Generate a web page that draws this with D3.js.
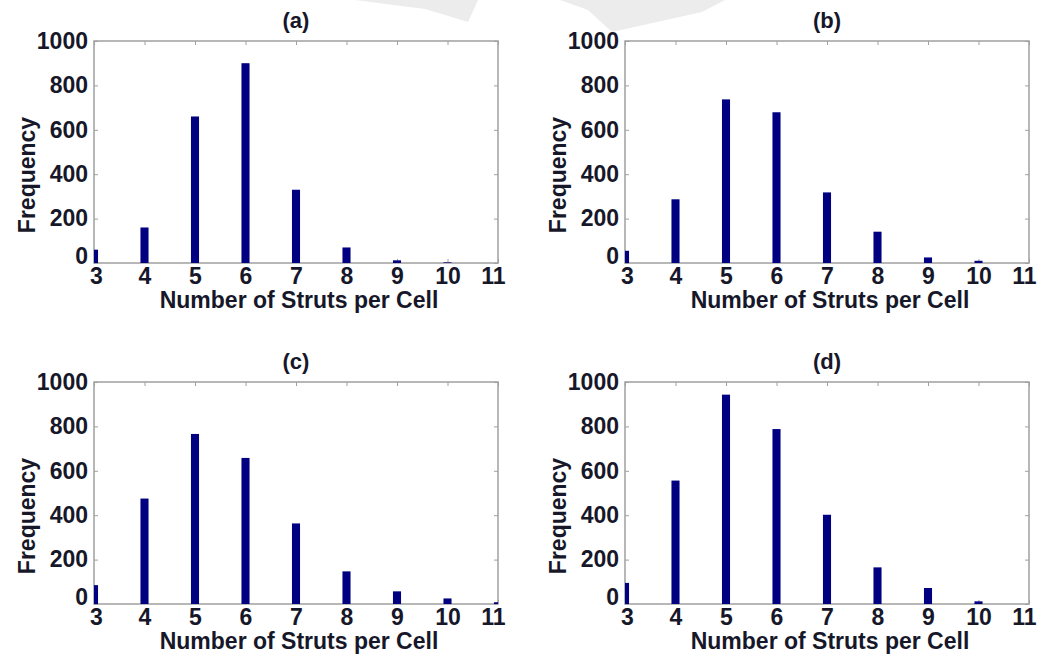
<!DOCTYPE html>
<html>
<head>
<meta charset="utf-8">
<title>Struts per Cell</title>
<style>
body {
	margin: 0;
	background-color: #ffffff;
}
text {
	font-family: "Liberation Sans", Arial, sans-serif;
	font-weight: bold;
	fill: #17172a;
}
</style>
</head>
<body>
<script src="https://cdn.jsdelivr.net/npm/d3@7"></script>
<script>

// data
var struts = [3, 4, 5, 6, 7, 8, 9, 10, 11];
var freqA = [60, 160, 660, 900, 330, 70, 12, 3, 0];
var freqB = [55, 287, 737, 679, 318, 141, 25, 10, 0];
var freqC = [85, 475, 766, 658, 363, 147, 57, 25, 8];
var freqD = [95, 556, 943, 788, 402, 165, 72, 12, 0];
var panelTitles = ["(a)", "(b)", "(c)", "(d)"];
var yTicks = [0, 200, 400, 600, 800, 1000];
var xTicks = [3, 4, 5, 6, 7, 8, 9, 10, 11];
var xLabel = "Number of Struts per Cell";
var yLabel = "Frequency";

var w = 1040;
var h = 655;
var plotW = 404;
var plotH = 222;
var barWidth = 0.16;
var fontSize = 23;

var panels = [
  {left: 94, top: 41, values: freqA, title: panelTitles[0]},
  {left: 625, top: 41, values: freqB, title: panelTitles[1]},
  {left: 94, top: 382, values: freqC, title: panelTitles[2]},
  {left: 625, top: 382, values: freqD, title: panelTitles[3]}
];

var svg = d3.select("body")
            .append("svg")
            .attr("width", w)
            .attr("height", h);

// faint watermark at the top of the scan
svg.append("path")
   .attr("d", "M355,0 L478,0 L468,22 L425,9 Z M560,0 L725,0 L702,12 L612,32 L588,10 Z")
   .attr("fill", "#ececec");

var x = d3.scaleLinear().domain([3, 11]).range([0, plotW]);
var y = d3.scaleLinear().domain([0, 1000]).range([plotH, 0]);

panels.forEach(function(p, k) {
  var g = svg.append("g")
             .attr("transform", "translate(" + p.left + "," + p.top + ")");

  g.append("clipPath")
   .attr("id", "clip" + k)
   .append("rect")
   .attr("width", plotW)
   .attr("height", plotH);

  // box
  g.append("rect")
   .attr("width", plotW)
   .attr("height", plotH)
   .attr("fill", "none")
   .attr("stroke", "#a0a0a0")
   .attr("stroke-width", 1.5);

  // axes, ticks pointing inward
  var bottom = g.append("g")
   .attr("transform", "translate(0," + plotH + ")")
   .call(d3.axisBottom(x).tickValues(xTicks).tickSize(-4).tickPadding(5).tickFormat(d3.format("d")));
  var left = g.append("g")
   .call(d3.axisLeft(y).tickValues(yTicks).tickSize(-4).tickPadding(6).tickFormat(d3.format("d")));
  g.append("g")
   .call(d3.axisTop(x).tickValues(xTicks).tickSize(-4).tickFormat(""));
  g.append("g")
   .attr("transform", "translate(" + plotW + ",0)")
   .call(d3.axisRight(y).tickValues(yTicks).tickSize(-4).tickFormat(""));

  g.selectAll(".domain").remove();
  g.selectAll(".tick line").attr("stroke", "#a0a0a0");
  g.selectAll(".tick text")
   .attr("font-size", fontSize)
   .attr("font-family", null)
   .attr("fill", null);
  // the zero label sits a little higher, as in the picture
  left.selectAll(".tick text")
   .filter(function(d) { return d === 0; })
   .attr("dy", "0.02em");
  // end labels are pulled inward a bit in the picture
  bottom.selectAll(".tick text")
   .attr("dx", function(d) { return d === 3 ? 2 : (d === 11 ? -5 : 0); });

  // bars on top of the inner ticks
  g.append("g")
   .attr("clip-path", "url(#clip" + k + ")")
   .selectAll("rect")
   .data(p.values)
   .enter()
   .append("rect")
   .attr("x", function(d, i) { return x(struts[i] - barWidth / 2); })
   .attr("y", function(d) { return y(d); })
   .attr("width", x(3 + barWidth) - x(3))
   .attr("height", function(d) { return plotH - y(d); })
   .attr("fill", "#000080");

  g.append("text")
   .attr("x", plotW / 2)
   .attr("y", -13)
   .attr("text-anchor", "middle")
   .attr("font-size", fontSize - 1)
   .text(p.title);

  g.append("text")
   .attr("x", plotW / 2 + 3)
   .attr("y", plotH + 45)
   .attr("text-anchor", "middle")
   .attr("font-size", fontSize)
   .text(xLabel);

  g.append("text")
   .attr("transform", "translate(-59," + (plotH / 2 + 23) + ") rotate(-90)")
   .attr("text-anchor", "middle")
   .attr("font-size", fontSize)
   .text(yLabel);
});

</script>
</body>
</html>
